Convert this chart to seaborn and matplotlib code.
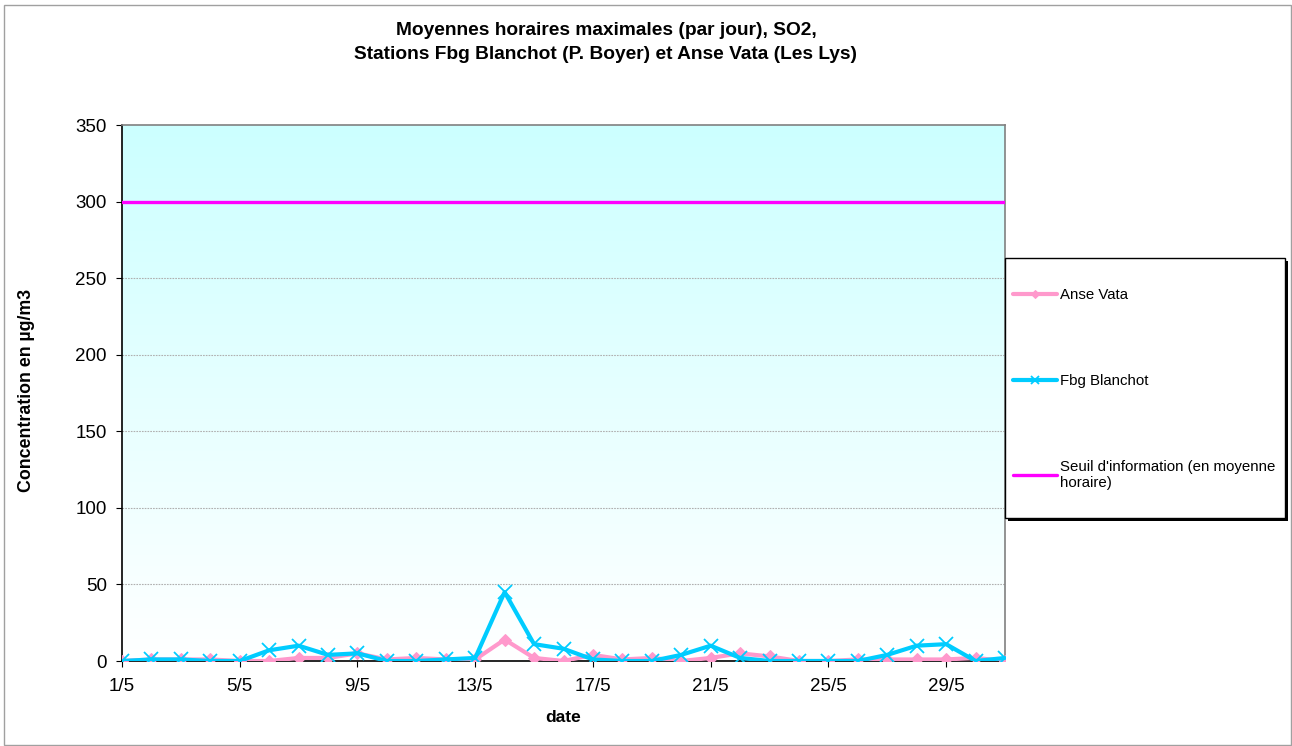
import numpy as np
import pandas as pd
import matplotlib
matplotlib.use("Agg")
import matplotlib.pyplot as plt
import seaborn as sns
from matplotlib.patches import Rectangle
from matplotlib.colors import LinearSegmentedColormap

sns.set_style("white")
plt.rcParams['font.family'] = ['Liberation Sans', 'DejaVu Sans']
plt.rcParams['text.color'] = 'black'

days = list(range(1, 32))
tick_days = [1, 5, 9, 13, 17, 21, 25, 29]
tick_labels = ["1/5", "5/5", "9/5", "13/5", "17/5", "21/5", "25/5", "29/5"]
anse_vata = [0, 1, 1, 1, 0, 0, 2, 2, 5, 1, 2, 1, 1, 14, 2, 0, 4, 1, 2, 0,
             2, 5, 3, 0, 0, 1, 1, 1, 1, 2, 0]
fbg_blanchot = [0, 1, 1, 0, 0, 7, 10, 4, 5, 0, 0, 1, 2, 45, 11, 8, 1, 0, 0, 4,
                10, 2, 0, 0, 0, 0, 4, 10, 11, 0, 2]
seuil = [300] * 31
series_names = ["Anse Vata", "Fbg Blanchot", "Seuil d'information (en moyenne\nhoraire)"]
title_lines = ["Moyennes horaires maximales (par jour), SO2,",
               "Stations Fbg Blanchot (P. Boyer) et Anse Vata (Les Lys)"]

W, H = 1292, 746
fig = plt.figure(figsize=(W / 100, H / 100), dpi=100)
fig.patch.set_facecolor("white")
fig.add_artist(Rectangle((4 / W, 1 / H), (W - 5) / W, (H - 6) / H, transform=fig.transFigure,
                         fill=False, edgecolor="#a0a0a0", lw=1))

left, right, top, bottom = 122, 1005, 125, 661
ax = fig.add_axes([left / W, 1 - bottom / H, (right - left) / W, (bottom - top) / H])

grad = np.linspace(0, 1, 256).reshape(-1, 1)
cmap = LinearSegmentedColormap.from_list("bg", ["#ffffff", "#ccffff"])
ax.imshow(grad, aspect="auto", cmap=cmap, origin="lower",
          extent=[1, 31, 0, 350], zorder=0)

for yv in range(50, 350, 50):
    ax.axhline(yv, color="#b0b0b0", lw=0.8, ls=(0, (1.5, 1)), zorder=1)

df = pd.DataFrame({"day": days, "Anse Vata": anse_vata, "Fbg Blanchot": fbg_blanchot, "Seuil": seuil})

sns.lineplot(data=df, x="day", y="Anse Vata", ax=ax, color="#ff99cc", lw=3,
             marker="D", markersize=6.5, markeredgecolor="#ff99cc", label=series_names[0], zorder=3)
sns.lineplot(data=df, x="day", y="Fbg Blanchot", ax=ax, color="#00ccff", lw=3,
             marker="x", markersize=10, markeredgewidth=1.3, markeredgecolor="#00ccff",
             label=series_names[1], zorder=4)
sns.lineplot(data=df, x="day", y="Seuil", ax=ax, color="#ff00ff", lw=2.4,
             label=series_names[2], zorder=3)

ax.set_xlim(1, 31)
ax.set_ylim(0, 350)
ax.set_yticks(range(0, 351, 50))
ax.set_xticks(tick_days)
ax.set_xticklabels(tick_labels)
ax.tick_params(axis="both", labelsize=13.5, length=4, width=0.8, direction="out",
               bottom=True, left=True, colors="black", labelcolor="black")
ax.tick_params(axis="y", pad=7)
ax.tick_params(axis="x", pad=8)
for s in ["left", "bottom"]:
    ax.spines[s].set_color("black")
    ax.spines[s].set_linewidth(1.2)
for s in ["top", "right"]:
    ax.spines[s].set_color("#808080")
    ax.spines[s].set_linewidth(1.2)

ax.set_xlabel("")
ax.set_ylabel("")
fig.text(563 / W, 1 - 718 / H, "date", ha="center", va="center",
         fontsize=12.5, fontweight="bold")
fig.text(27 / W, 1 - 390 / H, "Concentration en µg/m3", ha="center", va="center",
         rotation=90, fontsize=12.8, fontweight="bold")

fig.text(606 / W, 1 - 35 / H, title_lines[0], ha="center", va="baseline",
         fontsize=13.8, fontweight="bold")
fig.text(606 / W, 1 - 59 / H, title_lines[1], ha="center", va="baseline",
         fontsize=13.8, fontweight="bold")

# legend frame with shadow
fig.add_artist(Rectangle((1008 / W, 1 - 521 / H), 280 / W, 260 / H, transform=fig.transFigure,
                         facecolor="black", edgecolor="black", lw=0, zorder=5))
fig.add_artist(Rectangle((1005 / W, 1 - 518 / H), 280 / W, 260 / H, transform=fig.transFigure,
                         facecolor="white", edgecolor="black", lw=1, zorder=6))

ax.get_legend().remove()
handles, labels = ax.get_legend_handles_labels()
leg = fig.legend(handles, labels, loc="center left", bbox_to_anchor=(1005.5 / W, 1 - 389 / H),
                 frameon=False, fontsize=10.8, labelspacing=4.8, handlelength=2.93,
                 handletextpad=0.2, borderpad=0.5, borderaxespad=0, markerscale=0.6)
leg.set_zorder(7)
for t in leg.get_texts():
    t.set_color("black")

fig.savefig("out.png", dpi=100)
